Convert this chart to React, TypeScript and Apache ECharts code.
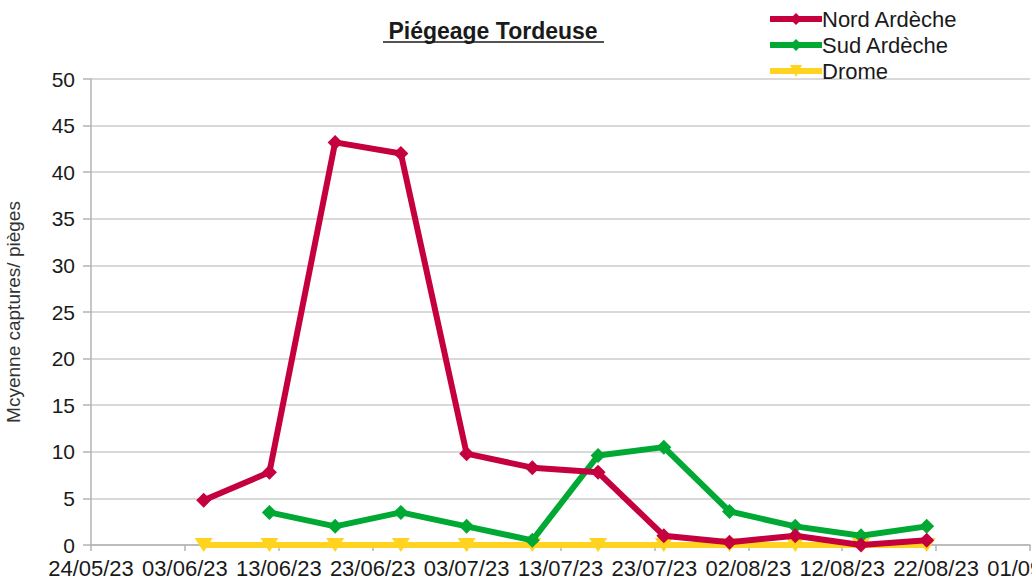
import React, { useEffect, useRef } from "react";
import * as echarts from "echarts";

const title = "Piégeage Tordeuse";
const yAxisName = "Mcyenne captures/ pièges";
const axisStart = "24/05/23";
const axisEnd = "01/09/23";
const dates = ["05/06/23", "12/06/23", "19/06/23", "26/06/23", "03/07/23", "10/07/23", "17/07/23", "24/07/23", "31/07/23", "07/08/23", "14/08/23", "21/08/23"];
const nordArdeche = [4.8, 7.8, 43.2, 42.0, 9.8, 8.3, 7.8, 1.0, 0.3, 1.0, 0.0, 0.5];
const sudArdeche = [null, 3.5, 2.0, 3.5, 2.0, 0.5, 9.6, 10.5, 3.6, 2.0, 1.0, 2.0];
const drome = [0, 0, 0, 0, 0, 0, 0, 0, 0, 0, 0, 0];

const DAY = 86400000;
function parseDate(s: string): number {
  const [d, m, y] = s.split("/").map(Number);
  return Date.UTC(2000 + y, m - 1, d);
}
const t0 = parseDate(axisStart);
const dayOf = (s: string) => Math.round((parseDate(s) - t0) / DAY);
const fmt = (v: number) => {
  const dt = new Date(t0 + v * DAY);
  const p = (n: number) => String(n).padStart(2, "0");
  return `${p(dt.getUTCDate())}/${p(dt.getUTCMonth() + 1)}/${p(dt.getUTCFullYear() % 100)}`;
};
const pairs = (vals: (number | null)[]) =>
  dates.map((d, i) => [dayOf(d), vals[i]]).filter((p) => p[1] !== null);

const FONT = "Liberation Sans";

export default function App() {
  const ref = useRef<HTMLDivElement>(null);
  useEffect(() => {
    const chart = echarts.init(ref.current!, null, { renderer: "svg" });
    chart.setOption({
      animation: false,
      backgroundColor: "#ffffff",
      textStyle: { fontFamily: FONT },
      grid: { left: 91, right: 2, top: 79, bottom: 40, containLabel: false, outerBoundsMode: "none" },
      graphic: [
        {
          type: "text",
          x: 493,
          y: 31,
          style: {
            text: title,
            font: `bold 23px '${FONT}'`,
            fill: "#1a1a1a",
            align: "center",
            verticalAlign: "middle",
          },
        },
        {
          type: "line",
          shape: { x1: 383, y1: 42, x2: 604, y2: 42 },
          style: { stroke: "#1a1a1a", lineWidth: 1.5 },
        },
      ],
      legend: {
        orient: "vertical",
        left: 762,
        top: 3,
        itemWidth: 52,
        itemHeight: 15,
        itemGap: 4,
        data: ["Nord Ardèche", "Sud Ardèche", "Drome"],
        lineStyle: { width: 6 },
        textStyle: { fontSize: 22, color: "#1a1a1a", fontFamily: FONT, padding: [0, 0, 0, -5] },
      },
      xAxis: {
        type: "value",
        min: 0,
        max: dayOf(axisEnd),
        interval: 10,
        axisLine: { show: true, onZero: false, lineStyle: { color: "#b3b3b3", width: 1.5 } },
        axisTick: { show: true, length: 6, lineStyle: { color: "#b3b3b3", width: 1.5 } },
        splitLine: { show: false },
        axisLabel: {
          formatter: (v: number) => fmt(v),
          fontSize: 22,
          color: "#1a1a1a",
          margin: 12,
          showMaxLabel: true,
          showMinLabel: true,
          hideOverlap: false,
        },
      },
      yAxis: {
        type: "value",
        min: 0,
        max: 50,
        interval: 5,
        name: yAxisName,
        nameLocation: "middle",
        nameGap: 68,
        nameTextStyle: { fontSize: 19, color: "#333333", fontFamily: FONT },
        axisLine: { show: true, lineStyle: { color: "#b3b3b3", width: 1.5 } },
        axisTick: { show: true, length: 8, lineStyle: { color: "#b3b3b3", width: 1.5 } },
        splitLine: { show: true, lineStyle: { color: "#cccccc", width: 1.5 } },
        axisLabel: { fontSize: 21, color: "#1a1a1a", margin: 16 },
      },
      series: [
        {
          name: "Nord Ardèche",
          type: "line",
          z: 4,
          data: pairs(nordArdeche),
          symbol: "diamond",
          symbolSize: 15,
          showAllSymbol: true,
          lineStyle: { color: "#c5003e", width: 6 },
          itemStyle: { color: "#c5003e" },
        },
        {
          name: "Sud Ardèche",
          type: "line",
          z: 3,
          data: pairs(sudArdeche),
          symbol: "diamond",
          symbolSize: 15,
          showAllSymbol: true,
          lineStyle: { color: "#00a933", width: 6 },
          itemStyle: { color: "#00a933" },
        },
        {
          name: "Drome",
          type: "line",
          z: 2,
          data: pairs(drome),
          symbol: "triangle",
          symbolRotate: 180,
          symbolSize: [18, 14],
          showAllSymbol: true,
          lineStyle: { color: "#ffd320", width: 6 },
          itemStyle: { color: "#ffd320" },
        },
      ],
    });
    return () => chart.dispose();
  }, []);
  return (
    <div
      ref={ref}
      style={{ position: "fixed", left: 0, top: 0, width: 1032, height: 585, background: "#fff" }}
    />
  );
}
